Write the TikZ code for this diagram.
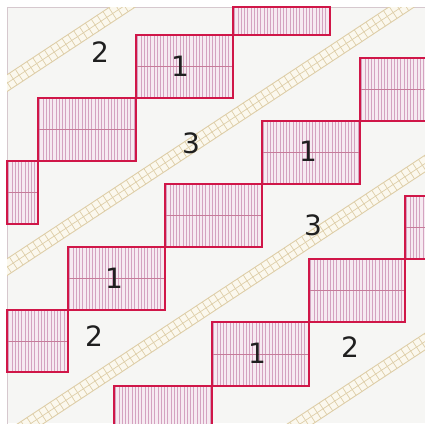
\documentclass[tikz,border=0pt]{standalone}
\usepackage{fontspec}
\setmainfont{DejaVu Sans}
\usepackage{tikz}
\definecolor{bedred}{RGB}{208,22,72}
\definecolor{bedfill}{RGB}{246,234,241}
\definecolor{bedline}{RGB}{212,162,192}
\definecolor{bedmid}{RGB}{198,124,154}
\definecolor{pathfill}{RGB}{251,248,238}
\definecolor{pathline}{RGB}{222,206,168}
\definecolor{ground}{RGB}{246,246,244}
\definecolor{framegrey}{RGB}{214,200,206}

\begin{document}
\begin{tikzpicture}[x=1pt,y=-1pt,
    bed/.style={draw=bedred,line width=2.4pt},
    hatch/.style={bedline,line width=.7pt},
    midline/.style={bedmid,line width=.8pt},
    walk/.style={fill=pathfill,draw=pathline,line width=.9pt},
    num/.style={font=\fontsize{28}{30}\selectfont,text=black!88,inner sep=0pt}]
  \useasboundingbox (0,0) rectangle (425,423);
  \clip (0,0) rectangle (425,423);
  \fill[ground] (7,7) rectangle (425,423);
  \draw[framegrey,line width=.8pt] (7,430) -- (7,7) -- (430,7);
  % paths between the beds
  \begin{scope}
    \clip (7,7) rectangle (425,423);
    \foreach \c in {88,272,444,622} {
      \begin{scope}[shift={(212,\c-140)},rotate=33.4]
        \draw[walk] (-320,-7) rectangle (320,7);
        \draw[pathline,line width=.7pt] (-320,0) -- (320,0);
        \foreach \u in {-315,-308,...,315}
          \draw[pathline,line width=.7pt] (\u,-7) -- (\u,7);
      \end{scope}
    }
  \end{scope}
  % beds
  \foreach \xa/\ya/\xb/\yb/\ym in {233/7/330/35/3.5, 136/35/233/98/66.5,
      38/98/136/161/129.5, 7/161/38/224/192.5,
      360/58/428/121/89.5, 262/121/360/184/152.5, 165/184/262/247/215.5,
      68/247/165/310/278.5, 7/310/68/372/341,
      405/196/428/259/227.5, 309/259/405/322/290.5, 212/322/309/386/354,
      114/386/212/428/440}
  {
    \fill[bedfill] (\xa,\ya) rectangle (\xb,\yb);
    \begin{scope}
      \clip (\xa,\ya) rectangle (\xb,\yb);
      \foreach \h in {0,...,33}
        \draw[hatch] (\xa+1.6+\h*3.25,\ya) -- ++(0,\yb-\ya);
      \draw[midline] (\xa,\ym) -- (\xb,\ym);
    \end{scope}
    \draw[bed] (\xa,\ya) rectangle (\xb,\yb);
  }
  \foreach \x/\y/\t [count=\i] in {100/52/2, 180/66/1, 191/143/3, 308/151/1,
      313/225/3, 114/278/1, 94/336/2, 257/353/1, 350/347/2}
    \node[num] (lab\i) at (\x,\y) {\t};
\end{tikzpicture}
\end{document}
